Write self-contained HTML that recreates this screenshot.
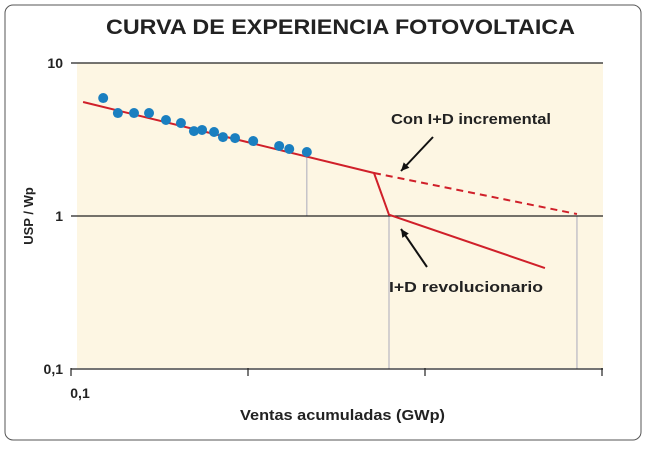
<!DOCTYPE html>
<html><head><meta charset="utf-8"><style>
body{margin:0;background:#fff;width:647px;height:447px;overflow:hidden;font-family:"Liberation Sans",Arial,sans-serif}
</style></head><body>
<svg width="647" height="447" font-family="Liberation Sans, Arial, sans-serif">
<rect x="5" y="5" width="636" height="435" rx="8" fill="#fff" stroke="#555" stroke-width="1"/>
<text x="106" y="34" textLength="469" lengthAdjust="spacingAndGlyphs" font-size="21" font-weight="bold" fill="#222">CURVA DE EXPERIENCIA FOTOVOLTAICA</text>
<rect x="77" y="63" width="526" height="305" fill="#fdf6e3"/>
<g id="g"></g>
<text x="240" y="420" textLength="205" lengthAdjust="spacingAndGlyphs" font-size="15" font-weight="bold" fill="#222">Ventas acumuladas (GWp)</text>
<text transform="translate(33,216) rotate(-90)" text-anchor="middle" font-size="13" font-weight="bold" fill="#222">USP / Wp</text>
<text x="391" y="124" textLength="160" lengthAdjust="spacingAndGlyphs" font-size="15" font-weight="bold" fill="#222">Con I+D incremental</text>
<text x="389" y="292" textLength="154" lengthAdjust="spacingAndGlyphs" font-size="15" font-weight="bold" fill="#222">I+D revolucionario</text>
</svg>
<script>
const yTicks=[10,1,0.1];
const yTickLabels=["10","1","0,1"];
const xTicks=[0.1,1,10,100];
const dotX=[0.152,0.184,0.227,0.276,0.344,0.418,0.495,0.55,0.643,0.722,0.845,1.07,1.50,1.71,2.15];
const dotY=[5.9,4.71,4.71,4.71,4.24,4.05,3.59,3.65,3.54,3.28,3.23,3.09,2.87,2.74,2.62];
const fitX=[0.117,5.15,6.26,47.6];
const fitY=[5.56,1.91,1.02,0.457];
const dashX=[5.15,72.2];
const dashY=[1.91,1.03];
const guideX=[2.15,6.26,72.2];
const guideTop=[2.62,1,1];
const X=v=>71+177*(Math.log10(v)+1);
const Y=v=>216-153*Math.log10(v);
const g=document.getElementById('g');const NS="http://www.w3.org/2000/svg";
function mk(t,a){const e=document.createElementNS(NS,t);for(const k in a)e.setAttribute(k,a[k]);g.appendChild(e);return e;}
guideX.forEach((v,i)=>{const e=mk('line',{x1:X(v),x2:X(v),y1:Y(guideTop[i]),y2:i==0?Y(1):Y(0.1),stroke:'#aab',"stroke-width":1});

});
yTicks.forEach((v,i)=>{const e=mk('line',{x1:71,x2:603,y1:Y(v),y2:Y(v),stroke:'#222',"stroke-width":1.2});


const t=mk('text',{x:63,y:Y(v)+5,"text-anchor":"end","font-size":14,"font-weight":"bold",fill:'#222'});t.textContent=yTickLabels[i];

});
xTicks.forEach(v=>{const e=mk('line',{x1:X(v),x2:X(v),y1:368,y2:376,stroke:'#222',"stroke-width":1.2});

});
const xl=mk('text',{x:80,y:398,"text-anchor":"middle","font-size":14,"font-weight":"bold",fill:'#222'});xl.textContent="0,1";


const dl=mk('polyline',{points:dashX.map((v,i)=>X(v)+','+Y(dashY[i])).join(' '),fill:'none',stroke:'#d0202a',"stroke-width":2,"stroke-dasharray":"7,5"});


const fl=mk('polyline',{points:fitX.map((v,i)=>X(v)+','+Y(fitY[i])).join(' '),fill:'none',stroke:'#d0202a',"stroke-width":2});


dotX.forEach((v,i)=>{const c=mk('circle',{cx:X(v),cy:Y(dotY[i]),r:5,fill:'#1a7fc0'});

});
function arrow(x1,y1,x2,y2,name){const l=mk('line',{x1,y1,x2,y2,stroke:'#111',"stroke-width":2});


const a=Math.atan2(y2-y1,x2-x1),s=9;const p=[[x2,y2],[x2-s*Math.cos(a-0.45),y2-s*Math.sin(a-0.45)],[x2-s*Math.cos(a+0.45),y2-s*Math.sin(a+0.45)]];
const h=mk('polygon',{points:p.map(q=>q.join(',')).join(' '),fill:'#111'});

}
arrow(433,137,401,171,'arrow-incremental');
arrow(427,267,401,229,'arrow-revolucionario');
</script>
</body></html>
